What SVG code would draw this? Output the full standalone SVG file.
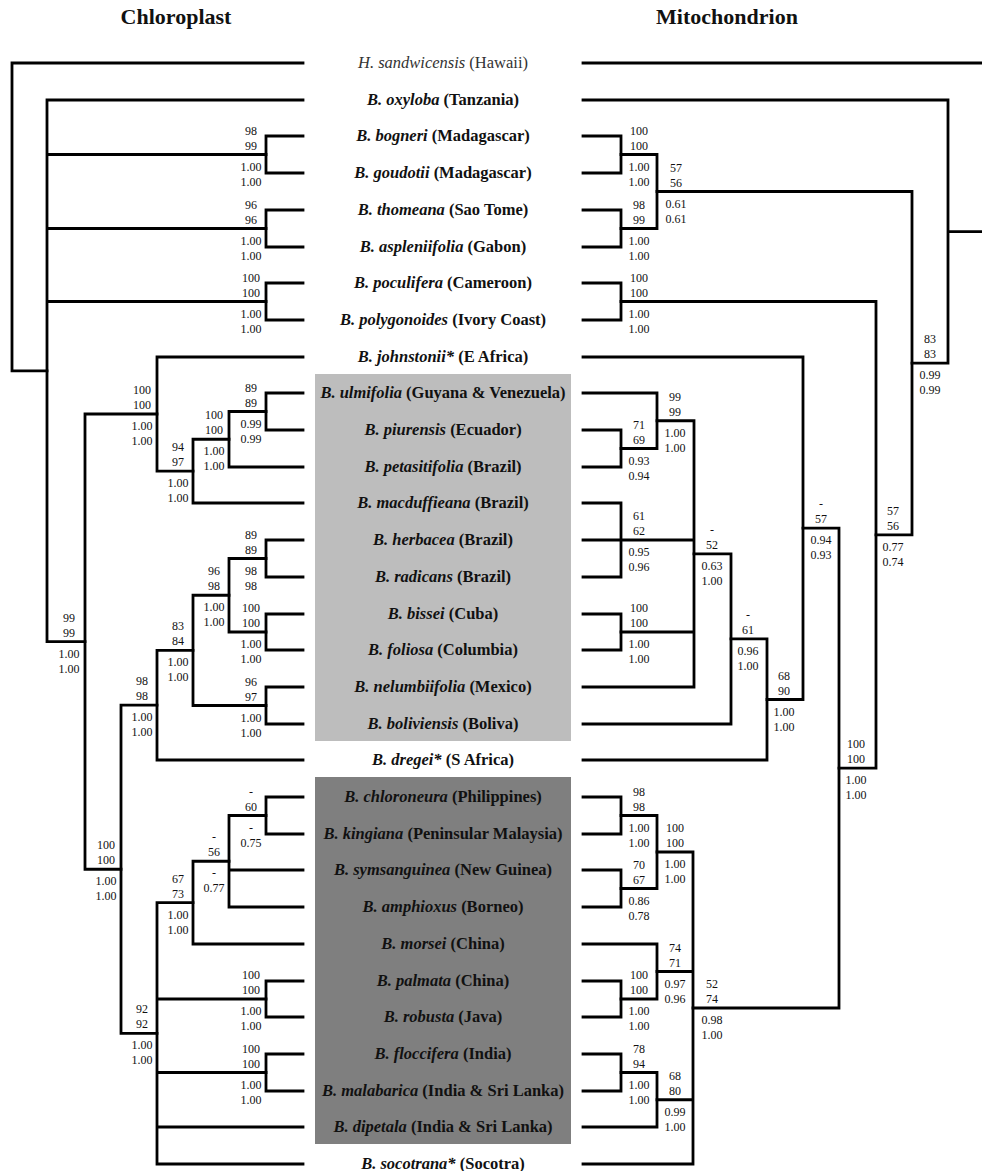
<svg xmlns="http://www.w3.org/2000/svg" width="982" height="1171" viewBox="0 0 982 1171">
<style>
.br{fill:none;stroke:#000;stroke-width:2.8;stroke-linecap:square;stroke-linejoin:miter}
text{font-family:"Liberation Serif","Times New Roman",serif;fill:#111}
.ti{font-family:"Liberation Serif","Times New Roman",serif;font-size:22px;font-weight:bold;text-anchor:middle}
.tx text{font-family:"Liberation Serif","Times New Roman",serif;font-size:16.5px;font-weight:bold;text-anchor:middle}
.tx .i{font-style:italic}
.tx text.hs{font-weight:normal;fill:#333}
.s text{font-family:"Liberation Serif","Times New Roman",serif;font-size:12px;text-anchor:middle;fill:#111}
</style>
<rect x="0" y="0" width="982" height="1171" fill="#fff"/>
<rect id="box-neotropics" x="315" y="374" width="256" height="367" fill="#bdbdbd"/>
<rect id="box-asia" x="315" y="777" width="256" height="367" fill="#7f7f7f"/>
<text class="ti" x="176" y="24">Chloroplast</text>
<text class="ti" x="727" y="24">Mitochondrion</text>

<g id="connectors">
<g id="chloroplast-tree">
<path class="br" d="M303 63H12V370.8H47"/>
<path class="br" d="M303 100H47V641.6H85M47 154.5H266M47 228.5H266M47 301.5H266"/>
<path class="br" d="M303 136H266V173H303"/>
<path class="br" d="M303 210H266V247H303"/>
<path class="br" d="M303 283H266V320H303"/>
<path class="br" d="M157 414H85V869.25H121"/>
<path class="br" d="M303 357H157V471.1H193"/>
<path class="br" d="M229 439.25H193V503H303"/>
<path class="br" d="M266 411.5H229V467H303"/>
<path class="br" d="M303 393H266V430H303"/>
<path class="br" d="M157 705.2H121V1033.3H157"/>
<path class="br" d="M193 650.4H157V760H303"/>
<path class="br" d="M229 595.25H193V705.5H266"/>
<path class="br" d="M266 558.5H229V632H266"/>
<path class="br" d="M303 540H266V577H303"/>
<path class="br" d="M303 614H266V650H303"/>
<path class="br" d="M303 687H266V724H303"/>
<path class="br" d="M193 902.6H157V1164H303M157 999H266M157 1072.5H266M157 1127H303"/>
<path class="br" d="M229 861.25H193V944H303"/>
<path class="br" d="M266 815.5H229V907H303M229 870H303"/>
<path class="br" d="M303 797H266V834H303"/>
<path class="br" d="M303 981H266V1017H303"/>
<path class="br" d="M303 1054H266V1091H303"/>
</g>
<g id="mitochondrion-tree">
<path class="br" d="M583 63H982"/>
<path class="br" d="M583 100H948V363.2H912M948 231.6H982"/>
<path class="br" d="M657 191.5H912V534.8H876"/>
<path class="br" d="M621 154.5H657V228.5H621"/>
<path class="br" d="M583 136H621V173H583"/>
<path class="br" d="M583 210H621V247H583"/>
<path class="br" d="M583 283H621V320H583"/>
<path class="br" d="M621 301.5H876V768.1H839"/>
<path class="br" d="M803 528.2H839V1008H693"/>
<path class="br" d="M583 357H803V699.5H767"/>
<path class="br" d="M731 638.9H767V760H583"/>
<path class="br" d="M694 553.9H731V724H583"/>
<path class="br" d="M657 420.75H694V687H583M583 540H694M621 632H694"/>
<path class="br" d="M583 393H657V448.5H621"/>
<path class="br" d="M583 430H621V467H583"/>
<path class="br" d="M583 503H621V577H583"/>
<path class="br" d="M583 614H621V650H583"/>
<path class="br" d="M657 852H693V1164H583M657 971.5H693M657 1099.75H693"/>
<path class="br" d="M621 815.5H657V888.5H621"/>
<path class="br" d="M583 797H621V834H583"/>
<path class="br" d="M583 870H621V907H583"/>
<path class="br" d="M583 944H657V999H621"/>
<path class="br" d="M583 981H621V1017H583"/>
<path class="br" d="M621 1072.5H657V1127H583"/>
<path class="br" d="M583 1054H621V1091H583"/>
</g>
</g>

<g id="taxa" class="tx">
<g id="t-sandwicensis"><text class="hs" x="443" y="68"><tspan class="i">H. sandwicensis</tspan> (Hawaii)</text></g>
<g id="t-oxyloba"><text x="443" y="105"><tspan class="i">B. oxyloba</tspan> (Tanzania)</text></g>
<g id="t-bogneri"><text x="443" y="141"><tspan class="i">B. bogneri</tspan> (Madagascar)</text></g>
<g id="t-goudotii"><text x="443" y="178"><tspan class="i">B. goudotii</tspan> (Madagascar)</text></g>
<g id="t-thomeana"><text x="443" y="215"><tspan class="i">B. thomeana</tspan> (Sao Tome)</text></g>
<g id="t-aspleniifolia"><text x="443" y="252"><tspan class="i">B. aspleniifolia</tspan> (Gabon)</text></g>
<g id="t-poculifera"><text x="443" y="288"><tspan class="i">B. poculifera</tspan> (Cameroon)</text></g>
<g id="t-polygonoides"><text x="443" y="325"><tspan class="i">B. polygonoides</tspan> (Ivory Coast)</text></g>
<g id="t-johnstonii"><text x="443" y="362"><tspan class="i">B. johnstonii*</tspan> (E Africa)</text></g>
<g id="t-ulmifolia"><text x="443" y="398"><tspan class="i">B. ulmifolia</tspan> (Guyana &amp; Venezuela)</text></g>
<g id="t-piurensis"><text x="443" y="435"><tspan class="i">B. piurensis</tspan> (Ecuador)</text></g>
<g id="t-petasitifolia"><text x="443" y="472"><tspan class="i">B. petasitifolia</tspan> (Brazil)</text></g>
<g id="t-macduffieana"><text x="443" y="508"><tspan class="i">B. macduffieana</tspan> (Brazil)</text></g>
<g id="t-herbacea"><text x="443" y="545"><tspan class="i">B. herbacea</tspan> (Brazil)</text></g>
<g id="t-radicans"><text x="443" y="582"><tspan class="i">B. radicans</tspan> (Brazil)</text></g>
<g id="t-bissei"><text x="443" y="619"><tspan class="i">B. bissei</tspan> (Cuba)</text></g>
<g id="t-foliosa"><text x="443" y="655"><tspan class="i">B. foliosa</tspan> (Columbia)</text></g>
<g id="t-nelumbiifolia"><text x="443" y="692"><tspan class="i">B. nelumbiifolia</tspan> (Mexico)</text></g>
<g id="t-boliviensis"><text x="443" y="729"><tspan class="i">B. boliviensis</tspan> (Boliva)</text></g>
<g id="t-dregei"><text x="443" y="765"><tspan class="i">B. dregei*</tspan> (S Africa)</text></g>
<g id="t-chloroneura"><text x="443" y="802"><tspan class="i">B. chloroneura</tspan> (Philippines)</text></g>
<g id="t-kingiana"><text x="443" y="839"><tspan class="i">B. kingiana</tspan> (Peninsular Malaysia)</text></g>
<g id="t-symsanguinea"><text x="443" y="875"><tspan class="i">B. symsanguinea</tspan> (New Guinea)</text></g>
<g id="t-amphioxus"><text x="443" y="912"><tspan class="i">B. amphioxus</tspan> (Borneo)</text></g>
<g id="t-morsei"><text x="443" y="949"><tspan class="i">B. morsei</tspan> (China)</text></g>
<g id="t-palmata"><text x="443" y="986"><tspan class="i">B. palmata</tspan> (China)</text></g>
<g id="t-robusta"><text x="443" y="1022"><tspan class="i">B. robusta</tspan> (Java)</text></g>
<g id="t-floccifera"><text x="443" y="1059"><tspan class="i">B. floccifera</tspan> (India)</text></g>
<g id="t-malabarica"><text x="443" y="1096"><tspan class="i">B. malabarica</tspan> (India &amp; Sri Lanka)</text></g>
<g id="t-dipetala"><text x="443" y="1132"><tspan class="i">B. dipetala</tspan> (India &amp; Sri Lanka)</text></g>
<g id="t-socotrana"><text x="443" y="1169"><tspan class="i">B. socotrana*</tspan> (Socotra)</text></g>
</g>

<g id="support-chloroplast" class="s">
<g id="n-bog"><text x="251" y="134.5">98</text><text x="251" y="149.5">99</text><text x="251" y="170.5">1.00</text><text x="251" y="185.5">1.00</text></g>
<g id="n-tho"><text x="251" y="208.5">96</text><text x="251" y="223.5">96</text><text x="251" y="244.5">1.00</text><text x="251" y="259.5">1.00</text></g>
<g id="n-poc"><text x="251" y="281.5">100</text><text x="251" y="296.5">100</text><text x="251" y="317.5">1.00</text><text x="251" y="332.5">1.00</text></g>
<g id="n-G"><text x="251" y="391.5">89</text><text x="251" y="406.5">89</text><text x="251" y="427.5">0.99</text><text x="251" y="442.5">0.99</text></g>
<g id="n-C"><text x="142" y="394">100</text><text x="142" y="409">100</text><text x="142" y="430">1.00</text><text x="142" y="445">1.00</text></g>
<g id="n-F"><text x="214" y="419">100</text><text x="214" y="434">100</text><text x="214" y="455">1.00</text><text x="214" y="470">1.00</text></g>
<g id="n-E"><text x="178" y="451">94</text><text x="178" y="466">97</text><text x="178" y="487">1.00</text><text x="178" y="502">1.00</text></g>
<g id="n-M"><text x="251" y="538.5">89</text><text x="251" y="553.5">89</text><text x="251" y="574.5">98</text><text x="251" y="589.5">98</text></g>
<g id="n-K"><text x="214" y="575">96</text><text x="214" y="590">98</text><text x="214" y="611">1.00</text><text x="214" y="626">1.00</text></g>
<g id="n-N"><text x="251" y="612">100</text><text x="251" y="627">100</text><text x="251" y="648">1.00</text><text x="251" y="663">1.00</text></g>
<g id="n-B"><text x="69" y="621.6">99</text><text x="69" y="636.6">99</text><text x="69" y="657.6">1.00</text><text x="69" y="672.6">1.00</text></g>
<g id="n-J"><text x="178" y="630.4">83</text><text x="178" y="645.4">84</text><text x="178" y="666.4">1.00</text><text x="178" y="681.4">1.00</text></g>
<g id="n-L"><text x="251" y="685.5">96</text><text x="251" y="700.5">97</text><text x="251" y="721.5">1.00</text><text x="251" y="736.5">1.00</text></g>
<g id="n-H"><text x="142" y="685">98</text><text x="142" y="700">98</text><text x="142" y="721">1.00</text><text x="142" y="736">1.00</text></g>
<g id="n-S"><text x="251" y="795.5">-</text><text x="251" y="810.5">60</text><text x="251" y="831.5">-</text><text x="251" y="846.5">0.75</text></g>
<g id="n-R"><text x="214" y="841">-</text><text x="214" y="856">56</text><text x="214" y="877">-</text><text x="214" y="892">0.77</text></g>
<g id="n-D"><text x="106" y="849">100</text><text x="106" y="864">100</text><text x="106" y="885">1.00</text><text x="106" y="900">1.00</text></g>
<g id="n-O"><text x="178" y="882.6">67</text><text x="178" y="897.6">73</text><text x="178" y="918.6">1.00</text><text x="178" y="933.6">1.00</text></g>
<g id="n-P"><text x="251" y="979">100</text><text x="251" y="994">100</text><text x="251" y="1015">1.00</text><text x="251" y="1030">1.00</text></g>
<g id="n-I"><text x="142" y="1013">92</text><text x="142" y="1028">92</text><text x="142" y="1049">1.00</text><text x="142" y="1064">1.00</text></g>
<g id="n-Q"><text x="251" y="1052.5">100</text><text x="251" y="1067.5">100</text><text x="251" y="1088.5">1.00</text><text x="251" y="1103.5">1.00</text></g>
</g>

<g id="support-mitochondrion" class="s">
<g id="m-W"><text x="639" y="134.5">100</text><text x="639" y="149.5">100</text><text x="639" y="170.5">1.00</text><text x="639" y="185.5">1.00</text></g>
<g id="m-V"><text x="676" y="171.5">57</text><text x="676" y="186.5">56</text><text x="676" y="207.5">0.61</text><text x="676" y="222.5">0.61</text></g>
<g id="m-X"><text x="639" y="208.5">98</text><text x="639" y="223.5">99</text><text x="639" y="244.5">1.00</text><text x="639" y="259.5">1.00</text></g>
<g id="m-Z"><text x="639" y="281.5">100</text><text x="639" y="296.5">100</text><text x="639" y="317.5">1.00</text><text x="639" y="332.5">1.00</text></g>
<g id="m-T"><text x="930" y="343">83</text><text x="930" y="358">83</text><text x="930" y="379">0.99</text><text x="930" y="394">0.99</text></g>
<g id="m-AF"><text x="675" y="401">99</text><text x="675" y="416">99</text><text x="675" y="437">1.00</text><text x="675" y="452">1.00</text></g>
<g id="m-AI"><text x="639" y="428.5">71</text><text x="639" y="443.5">69</text><text x="639" y="464.5">0.93</text><text x="639" y="479.5">0.94</text></g>
<g id="m-AB"><text x="821" y="508">-</text><text x="821" y="523">57</text><text x="821" y="544">0.94</text><text x="821" y="559">0.93</text></g>
<g id="m-U"><text x="893" y="515">57</text><text x="893" y="530">56</text><text x="893" y="551">0.77</text><text x="893" y="566">0.74</text></g>
<g id="m-AG"><text x="639" y="520">61</text><text x="639" y="535">62</text><text x="639" y="556">0.95</text><text x="639" y="571">0.96</text></g>
<g id="m-AE"><text x="712" y="534">-</text><text x="712" y="549">52</text><text x="712" y="570">0.63</text><text x="712" y="585">1.00</text></g>
<g id="m-AH"><text x="639" y="612">100</text><text x="639" y="627">100</text><text x="639" y="648">1.00</text><text x="639" y="663">1.00</text></g>
<g id="m-AD"><text x="748" y="619">-</text><text x="748" y="634">61</text><text x="748" y="655">0.96</text><text x="748" y="670">1.00</text></g>
<g id="m-AC"><text x="784" y="679.5">68</text><text x="784" y="694.5">90</text><text x="784" y="715.5">1.00</text><text x="784" y="730.5">1.00</text></g>
<g id="m-Y"><text x="856" y="748">100</text><text x="856" y="763">100</text><text x="856" y="784">1.00</text><text x="856" y="799">1.00</text></g>
<g id="m-AM"><text x="639" y="795.5">98</text><text x="639" y="810.5">98</text><text x="639" y="831.5">1.00</text><text x="639" y="846.5">1.00</text></g>
<g id="m-AJ"><text x="675" y="832">100</text><text x="675" y="847">100</text><text x="675" y="868">1.00</text><text x="675" y="883">1.00</text></g>
<g id="m-AN"><text x="639" y="868.5">70</text><text x="639" y="883.5">67</text><text x="639" y="904.5">0.86</text><text x="639" y="919.5">0.78</text></g>
<g id="m-AK"><text x="675" y="951.5">74</text><text x="675" y="966.5">71</text><text x="675" y="987.5">0.97</text><text x="675" y="1002.5">0.96</text></g>
<g id="m-AO"><text x="639" y="979">100</text><text x="639" y="994">100</text><text x="639" y="1015">1.00</text><text x="639" y="1030">1.00</text></g>
<g id="m-AA"><text x="712" y="988">52</text><text x="712" y="1003">74</text><text x="712" y="1024">0.98</text><text x="712" y="1039">1.00</text></g>
<g id="m-AP"><text x="639" y="1052.5">78</text><text x="639" y="1067.5">94</text><text x="639" y="1088.5">1.00</text><text x="639" y="1103.5">1.00</text></g>
<g id="m-AL"><text x="675" y="1080">68</text><text x="675" y="1095">80</text><text x="675" y="1116">0.99</text><text x="675" y="1131">1.00</text></g>
</g>
</svg>
